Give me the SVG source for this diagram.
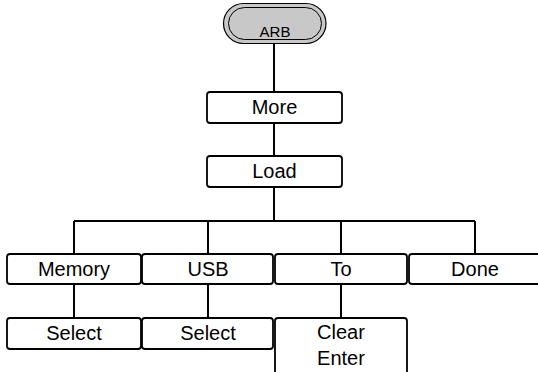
<svg xmlns="http://www.w3.org/2000/svg" width="538" height="372" viewBox="0 0 538 372">
<style>
.box{fill:#fff;stroke:#000;stroke-width:1.8}
.t{font-family:"Liberation Sans",Arial,sans-serif;font-size:20px;fill:#000;text-anchor:middle}
.c{fill:none;stroke:#000;stroke-width:2}
</style>
<rect width="538" height="372" fill="#fff"/>
<g id="connectors">
<path class="c" d="M274 43V92M274 123V156M274 187V221M74 221H475M74 221V254M208 221V254M341 221V254M475 221V254M74 284V318M208 284V318M341 284V318"/>
</g>
<g id="arb">
<rect x="223.5" y="3.5" width="102.5" height="40" rx="20" fill="#c8c8c8" stroke="#000" stroke-width="1.2"/>
<rect x="228.5" y="7.5" width="93" height="32" rx="16" fill="none" stroke="#000" stroke-width="1"/>
<text class="t" x="275" y="36.5" style="font-size:15px">ARB</text>
</g>
<g id="more"><rect class="box" x="207" y="92" width="135" height="31" rx="3"/><text class="t" x="274.5" y="114">More</text></g>
<g id="load"><rect class="box" x="207" y="156" width="135" height="31" rx="3"/><text class="t" x="274.5" y="178">Load</text></g>
<g id="memory"><rect class="box" x="7" y="254" width="134" height="30" rx="3"/><text class="t" x="74" y="276">Memory</text></g>
<g id="usb"><rect class="box" x="142" y="254" width="131" height="30" rx="3"/><text class="t" x="208" y="276">USB</text></g>
<g id="to"><rect class="box" x="275" y="254" width="132" height="30" rx="3"/><text class="t" x="341" y="276">To</text></g>
<g id="done"><rect class="box" x="409" y="254" width="132" height="30" rx="3"/><text class="t" x="475" y="276">Done</text></g>
<g id="select1"><rect class="box" x="7" y="318" width="134" height="31" rx="3"/><text class="t" x="74" y="340">Select</text></g>
<g id="select2"><rect class="box" x="142" y="318" width="131" height="31" rx="3"/><text class="t" x="208" y="340">Select</text></g>
<g id="clearenter"><rect class="box" x="275" y="318" width="132" height="70" rx="3"/><text class="t" x="341" y="339">Clear</text><text class="t" x="341" y="365">Enter</text></g>
</svg>
